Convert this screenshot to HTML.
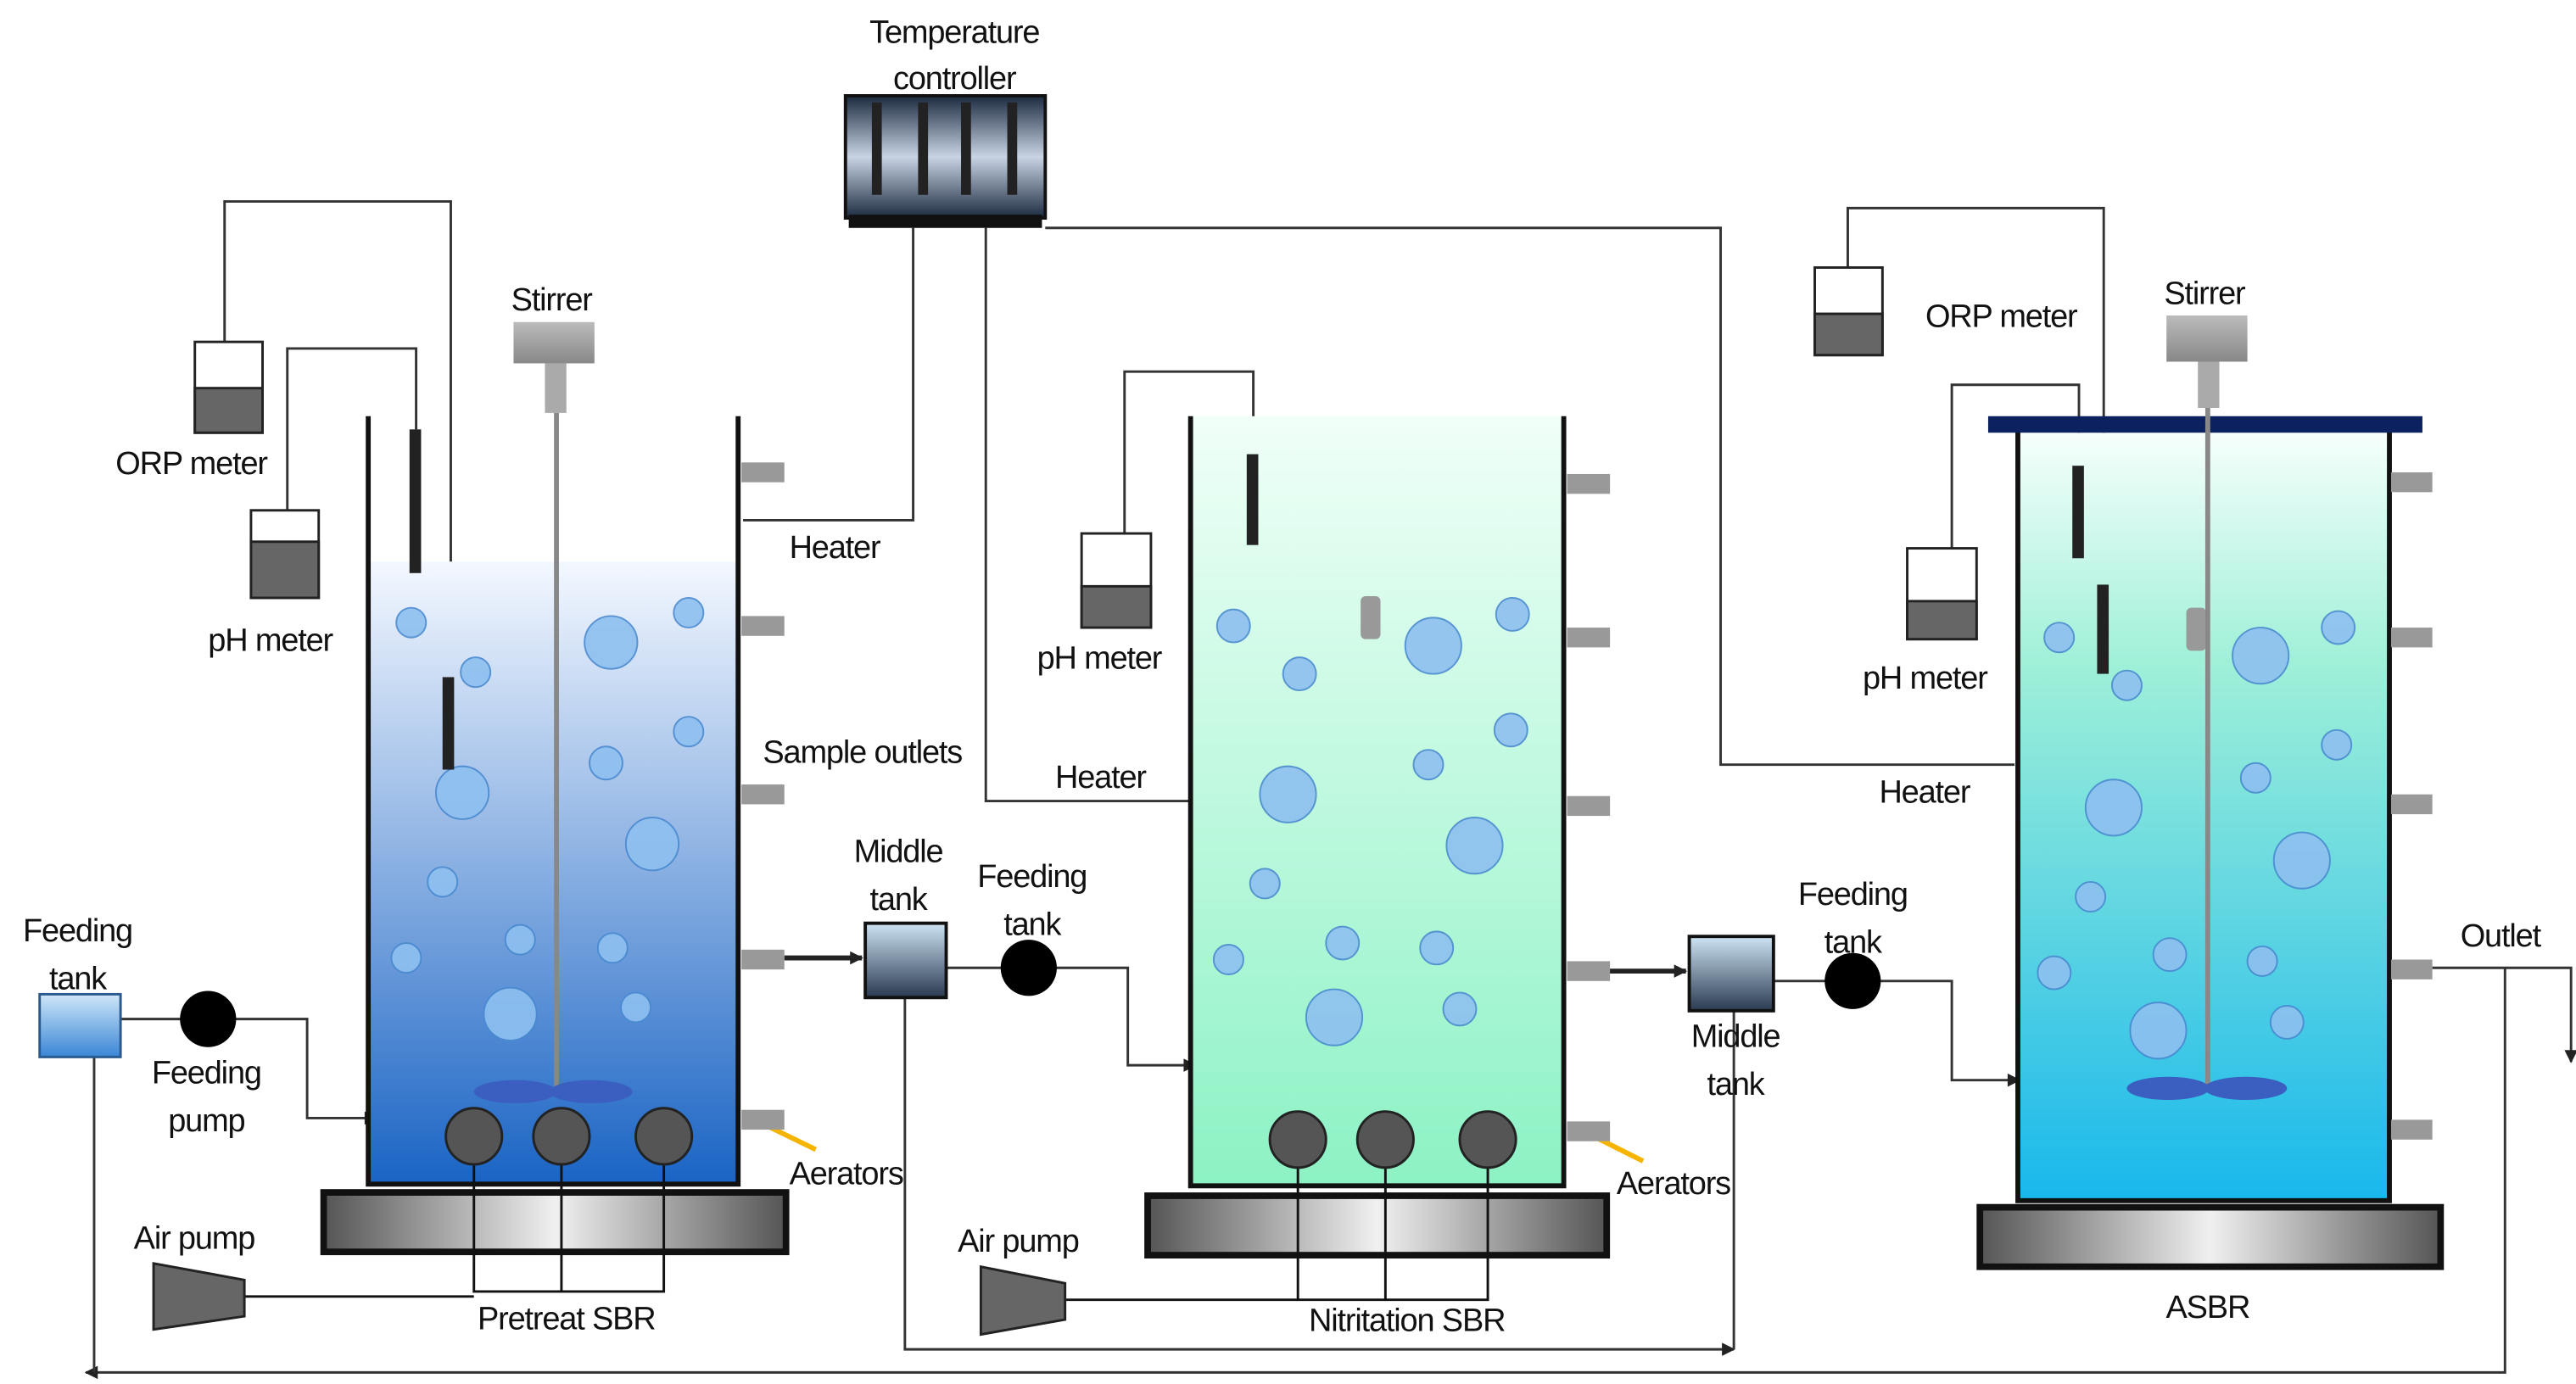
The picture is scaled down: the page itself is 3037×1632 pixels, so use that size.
<!DOCTYPE html>
<html><head><meta charset="utf-8"><style>html,body{margin:0;padding:0;background:#fff}svg{display:block}text{font-family:"Liberation Sans",sans-serif;font-size:19.5px;fill:#111;letter-spacing:-0.6px}</style></head>
<body>
<svg width="3037" height="1632" viewBox="0 0 1560 838" preserveAspectRatio="none" xmlns="http://www.w3.org/2000/svg">
<defs>
<linearGradient id="g1" x1="0" y1="0" x2="0" y2="1"><stop offset="0" stop-color="#f4f8ff"/><stop offset="1" stop-color="#1a64c4"/></linearGradient>
<linearGradient id="g2" x1="0" y1="0" x2="0" y2="1"><stop offset="0" stop-color="#f0fff8"/><stop offset="1" stop-color="#8cf2c4"/></linearGradient>
<linearGradient id="g3" x1="0" y1="0" x2="0" y2="1"><stop offset="0" stop-color="#f6fffc"/><stop offset="0.3" stop-color="#9ff0d8"/><stop offset="1" stop-color="#18b8ec"/></linearGradient>
<linearGradient id="base" x1="0" y1="0" x2="1" y2="0"><stop offset="0" stop-color="#555"/><stop offset="0.5" stop-color="#f0f0f0"/><stop offset="1" stop-color="#555"/></linearGradient>
<linearGradient id="tc" x1="0" y1="0" x2="0" y2="1"><stop offset="0" stop-color="#1c2a40"/><stop offset="0.5" stop-color="#c8d4e4"/><stop offset="1" stop-color="#1c2a40"/></linearGradient>
<linearGradient id="mt" x1="0" y1="0" x2="0" y2="1"><stop offset="0" stop-color="#cde4f4"/><stop offset="1" stop-color="#2a3a50"/></linearGradient>
<linearGradient id="ft" x1="0" y1="0" x2="0" y2="1"><stop offset="0" stop-color="#cfe6f8"/><stop offset="1" stop-color="#3a86d6"/></linearGradient>
<linearGradient id="st" x1="0" y1="0" x2="0" y2="1"><stop offset="0" stop-color="#bbb"/><stop offset="1" stop-color="#888"/></linearGradient>
<marker id="ar" viewBox="0 0 10 10" refX="9" refY="5" markerUnits="userSpaceOnUse" markerWidth="9" markerHeight="8" orient="auto"><path d="M0,0 L10,5 L0,10 z" fill="#222"/></marker>
</defs>
<g fill="none" stroke="#333" stroke-width="1.5">
<polyline points="553,138 553,315 450,315"/>
<polyline points="597,138 597,485 720,485"/>
<polyline points="633,138 1042,138 1042,463 1220,463"/>
<polyline points="136,207 136,122 273,122 273,410"/>
<polyline points="174,309 174,211 252,211 252,260"/>
<polyline points="681,323 681,225 759,225 759,275"/>
<polyline points="1119,162 1119,126 1274,126 1274,354"/>
<polyline points="1182,332 1182,233 1259,233 1259,282"/>
<polyline points="73,617 186,617 186,677 228,677" marker-end="url(#ar)"/>
<polyline points="573,586 683,586 683,645 724,645" marker-end="url(#ar)"/>
<polyline points="1074,594 1182,594 1182,654 1223,654" marker-end="url(#ar)"/>
<polyline points="548,604 548,817 1050,817" marker-end="url(#ar)"/>
<polyline points="1050,817 1050,612"/>
<polyline points="1473,586 1557,586 1557,643" marker-end="url(#ar)"/>
<polyline points="1517,586 1517,831 52,831" marker-end="url(#ar)"/>
<polyline points="57,831 57,616" marker-end="url(#ar)"/>
</g>
<g stroke="#222" stroke-width="3" fill="none">
<line x1="475" y1="580" x2="522" y2="580" marker-end="url(#ar)"/>
<line x1="973" y1="588" x2="1021" y2="588" marker-end="url(#ar)"/>
</g>
<g stroke="#f5b400" stroke-width="3"><line x1="459" y1="679" x2="494" y2="696"/><line x1="959" y1="685" x2="995" y2="703"/></g>
<rect x="512" y="58" width="121" height="74" fill="url(#tc)" stroke="#111" stroke-width="2"/>
<rect x="514" y="130" width="117" height="8" fill="#111"/>
<g fill="#222"><rect x="528" y="62" width="6" height="56"/><rect x="556" y="62" width="6" height="56"/><rect x="582" y="62" width="6" height="56"/><rect x="610" y="62" width="6" height="56"/></g>
<rect x="224" y="340" width="222" height="377" fill="url(#g1)"/>
<polyline points="223,252 223,717 447,717 447,252" fill="none" stroke="#111" stroke-width="3"/>
<rect x="196" y="722" width="280" height="36" fill="url(#base)" stroke="#111" stroke-width="4"/>
<rect x="722" y="252" width="224" height="466" fill="url(#g2)"/>
<polyline points="721,252 721,718 947,718 947,252" fill="none" stroke="#111" stroke-width="3"/>
<rect x="695" y="724" width="278" height="36" fill="url(#base)" stroke="#111" stroke-width="4"/>
<rect x="1223" y="262" width="223" height="465" fill="url(#g3)"/>
<polyline points="1222,258 1222,727 1447,727 1447,258" fill="none" stroke="#111" stroke-width="3"/>
<rect x="1204" y="252" width="263" height="10" fill="#0c2260"/>
<rect x="1199" y="731" width="279" height="36" fill="url(#base)" stroke="#111" stroke-width="4"/>
<g fill="#999">
<rect x="449" y="280" width="26" height="12"/><rect x="449" y="373" width="26" height="12"/><rect x="449" y="475" width="26" height="12"/><rect x="449" y="575" width="26" height="12"/><rect x="449" y="672" width="26" height="12"/>
<rect x="949" y="287" width="26" height="12"/><rect x="949" y="380" width="26" height="12"/><rect x="949" y="482" width="26" height="12"/><rect x="949" y="582" width="26" height="12"/><rect x="949" y="679" width="26" height="12"/>
<rect x="1448" y="286" width="25" height="12"/><rect x="1448" y="380" width="25" height="12"/><rect x="1448" y="481" width="25" height="12"/><rect x="1448" y="581" width="25" height="12"/><rect x="1448" y="678" width="25" height="12"/>
<rect x="824" y="361" width="12" height="26" rx="3"/><rect x="1324" y="368" width="12" height="26" rx="3"/>
</g>
<g fill="#8ec0f0" stroke="#4a8ad0" stroke-width="1" opacity="0.9">
<circle cx="249" cy="377" r="9"/><circle cx="288" cy="407" r="9"/><circle cx="370" cy="389" r="16"/><circle cx="417" cy="371" r="9"/><circle cx="417" cy="443" r="9"/><circle cx="280" cy="480" r="16"/><circle cx="367" cy="462" r="10"/><circle cx="395" cy="511" r="16"/><circle cx="268" cy="534" r="9"/><circle cx="246" cy="580" r="9"/><circle cx="315" cy="569" r="9"/><circle cx="371" cy="574" r="9"/><circle cx="309" cy="614" r="16"/><circle cx="385" cy="610" r="9"/>
<circle cx="747" cy="379" r="10"/><circle cx="787" cy="408" r="10"/><circle cx="868" cy="391" r="17"/><circle cx="916" cy="372" r="10"/><circle cx="915" cy="442" r="10"/><circle cx="780" cy="481" r="17"/><circle cx="865" cy="463" r="9"/><circle cx="893" cy="512" r="17"/><circle cx="766" cy="535" r="9"/><circle cx="744" cy="581" r="9"/><circle cx="813" cy="571" r="10"/><circle cx="870" cy="574" r="10"/><circle cx="808" cy="616" r="17"/><circle cx="884" cy="611" r="10"/>
<circle cx="1247" cy="386" r="9"/><circle cx="1288" cy="415" r="9"/><circle cx="1369" cy="397" r="17"/><circle cx="1416" cy="380" r="10"/><circle cx="1415" cy="451" r="9"/><circle cx="1280" cy="489" r="17"/><circle cx="1366" cy="471" r="9"/><circle cx="1394" cy="521" r="17"/><circle cx="1266" cy="543" r="9"/><circle cx="1244" cy="589" r="10"/><circle cx="1314" cy="578" r="10"/><circle cx="1370" cy="582" r="9"/><circle cx="1307" cy="624" r="17"/><circle cx="1385" cy="619" r="10"/>
</g>
<g fill="#222"><rect x="248" y="260" width="7" height="87"/><rect x="268" y="410" width="7" height="56"/><rect x="755" y="275" width="7" height="55"/><rect x="1255" y="282" width="7" height="56"/><rect x="1270" y="354" width="7" height="54"/></g>
<g stroke="#222" stroke-width="1.5">
<rect x="118" y="207" width="41" height="55" fill="#fff"/><rect x="118" y="235" width="41" height="27" fill="#666"/>
<rect x="152" y="309" width="41" height="53" fill="#fff"/><rect x="152" y="328" width="41" height="34" fill="#666"/>
<rect x="655" y="323" width="42" height="57" fill="#fff"/><rect x="655" y="355" width="42" height="25" fill="#666"/>
<rect x="1099" y="162" width="41" height="53" fill="#fff"/><rect x="1099" y="190" width="41" height="25" fill="#666"/>
<rect x="1155" y="332" width="42" height="55" fill="#fff"/><rect x="1155" y="364" width="42" height="23" fill="#666"/>
</g>
<rect x="311" y="195" width="49" height="25" fill="url(#st)"/><rect x="330" y="220" width="13" height="30" fill="#aaa"/>
<line x1="337" y1="250" x2="337" y2="660" stroke="#888" stroke-width="3"/>
<ellipse cx="312" cy="661" rx="25" ry="7" fill="#3a5fc0"/><ellipse cx="358" cy="661" rx="25" ry="7" fill="#3a5fc0"/>
<rect x="1312" y="191" width="49" height="28" fill="url(#st)"/><rect x="1331" y="219" width="13" height="28" fill="#aaa"/>
<line x1="1337" y1="247" x2="1337" y2="657" stroke="#888" stroke-width="3"/>
<ellipse cx="1313" cy="659" rx="25" ry="7" fill="#3a5fc0"/><ellipse cx="1360" cy="659" rx="25" ry="7" fill="#3a5fc0"/>
<g stroke="#111" stroke-width="1.5" fill="none">
<polyline points="287,688 287,782 402,782 402,688"/><line x1="340" y1="688" x2="340" y2="782"/><line x1="148" y1="785" x2="287" y2="785"/>
<polyline points="786,690 786,787 901,787 901,690"/><line x1="839" y1="690" x2="839" y2="787"/><line x1="645" y1="787" x2="786" y2="787"/>
</g>
<g fill="#555" stroke="#222" stroke-width="1.5">
<circle cx="287" cy="688" r="17"/><circle cx="340" cy="688" r="17"/><circle cx="402" cy="688" r="17"/>
<circle cx="786" cy="690" r="17"/><circle cx="839" cy="690" r="17"/><circle cx="901" cy="690" r="17"/>
<polygon points="93,765 148,775 148,797 93,805" fill="#666"/>
<polygon points="594,767 645,777 645,799 594,808" fill="#666"/>
</g>
<rect x="524" y="559" width="49" height="45" fill="url(#mt)" stroke="#111" stroke-width="2"/>
<rect x="1023" y="567" width="51" height="45" fill="url(#mt)" stroke="#111" stroke-width="2"/>
<rect x="24" y="602" width="49" height="38" fill="url(#ft)" stroke="#2a5a90" stroke-width="1.5"/>
<circle cx="126" cy="617" r="17" fill="#000"/><circle cx="623" cy="586" r="17" fill="#000"/><circle cx="1122" cy="594" r="17" fill="#000"/>
<text x="578" y="26" text-anchor="middle">Temperature</text><text x="578" y="54" text-anchor="middle">controller</text>
<text x="334" y="188" text-anchor="middle">Stirrer</text><text x="1335" y="184" text-anchor="middle">Stirrer</text>
<text x="70" y="287">ORP meter</text><text x="126" y="394">pH meter</text>
<text x="628" y="405">pH meter</text><text x="1166" y="198">ORP meter</text><text x="1128" y="417">pH meter</text>
<text x="478" y="338">Heater</text><text x="639" y="477">Heater</text><text x="1138" y="486">Heater</text>
<text x="462" y="462">Sample outlets</text>
<text x="544" y="522" text-anchor="middle">Middle</text><text x="544" y="551" text-anchor="middle">tank</text>
<text x="625" y="537" text-anchor="middle">Feeding</text><text x="625" y="566" text-anchor="middle">tank</text>
<text x="47" y="570" text-anchor="middle">Feeding</text><text x="47" y="599" text-anchor="middle">tank</text>
<text x="125" y="656" text-anchor="middle">Feeding</text><text x="125" y="685" text-anchor="middle">pump</text>
<text x="1122" y="548" text-anchor="middle">Feeding</text><text x="1122" y="577" text-anchor="middle">tank</text>
<text x="1051" y="634" text-anchor="middle">Middle</text><text x="1051" y="663" text-anchor="middle">tank</text>
<text x="1490" y="573">Outlet</text>
<text x="478" y="717">Aerators</text><text x="979" y="723">Aerators</text>
<text x="81" y="756">Air pump</text><text x="580" y="758">Air pump</text>
<text x="343" y="805" text-anchor="middle">Pretreat SBR</text><text x="852" y="806" text-anchor="middle">Nitritation SBR</text>
<text x="1337" y="798" text-anchor="middle">ASBR</text>
</svg>
</body></html>
